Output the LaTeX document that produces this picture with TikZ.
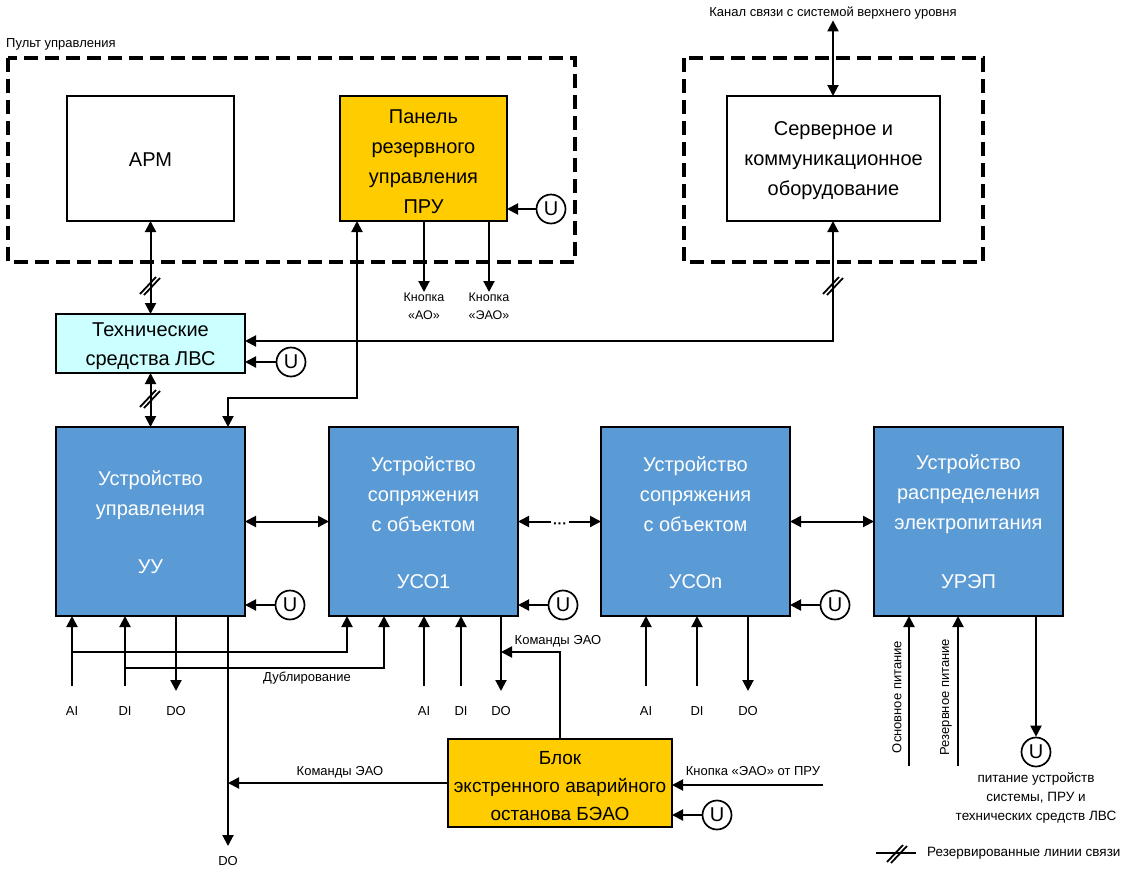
\documentclass[tikz,border=0pt]{standalone}
\usepackage{fontspec}
\setmainfont{Liberation Sans}
\usetikzlibrary{arrows.meta,calc}
\definecolor{blueb}{HTML}{5B9BD5}
\definecolor{yelb}{HTML}{FFCC00}
\definecolor{cyanb}{HTML}{CCFFFF}
\tikzset{
  hashmark/.pic={
    \draw[line width=1.8pt] (-10,9) -- (6,-8);
    \draw[line width=1.8pt] (-6,10) -- (10,-7);
  }
}
\begin{document}
\begin{tikzpicture}[x=1pt,y=-1pt,
  >={Triangle[length=11pt,width=11pt]},
  conn/.style={line width=2pt},
  box/.style={draw,line width=2pt,outer sep=0pt,inner sep=0pt},
  bbox/.style={draw,line width=1.5pt,fill=blueb,outer sep=0pt,inner sep=0pt},
  bigt/.style={font=\fontsize{20}{30}\selectfont,align=center,inner sep=0pt},
  bigw/.style={bigt,text=white},
  smt/.style={font=\fontsize{13}{18}\selectfont,align=center,inner sep=1pt},
  dbox/.style={draw,line width=3.3pt,dash pattern=on 14pt off 7pt},
  ucirc/.style={draw,circle,line width=1.7pt,minimum size=29pt,inner sep=0pt,font=\fontsize{20}{20}\selectfont},
]
\useasboundingbox (0,0) rectangle (1121,876);
\fill[white] (0,0) rectangle (1121,876);

% dashed groups
\draw[dbox] (8,58) rectangle (575,262);
\node[smt,anchor=west] (pult) at (5,44) {Пульт управления};
\draw[dbox] (684,58) rectangle (983,262);

% top boxes
\node[box,minimum width=167pt,minimum height=125pt] (arm) at (150.5,158.5) {};
\node[bigt] (armt) at (150.5,160) {АРМ};
\node[box,fill=yelb,minimum width=167pt,minimum height=125pt] (pru) at (423.5,158.5) {};
\node[bigt] (prut) at (423.5,162) {Панель\\резервного\\управления\\ПРУ};
\node[box,minimum width=213pt,minimum height=125pt] (srv) at (833.5,158.5) {};
\node[bigt] (srvt) at (833.5,161) {Серверное и\\коммуникационное\\оборудование};

% LVS
\node[box,fill=cyanb,minimum width=189pt,minimum height=59pt] (lvs) at (150.5,343.5) {};
\node[bigt,font=\fontsize{20}{29}\selectfont] (lvst) at (150.5,346) {Технические\\средства ЛВС};

% main row
\node[bbox,minimum width=189pt,minimum height=189pt] (uu) at (150.5,521.5) {};
\node[bbox,minimum width=189pt,minimum height=189pt] (uso1) at (423.5,521.5) {};
\node[bbox,minimum width=189pt,minimum height=189pt] (uson) at (695.5,521.5) {};
\node[bbox,minimum width=189pt,minimum height=189pt] (urep) at (968.5,521.5) {};
\node[bigw] (uut) at (150.5,495) {Устройство\\управления};
\node[bigw] (uut2) at (150.5,567) {УУ};
\node[bigw] (uso1t) at (423.5,494) {Устройство\\сопряжения\\с объектом};
\node[bigw] (uso1t2) at (423.5,582) {УСО1};
\node[bigw] (usont) at (695.5,494) {Устройство\\сопряжения\\с объектом};
\node[bigw] (usont2) at (695.5,582) {УСОn};
\node[bigw] (urept) at (968.5,494) {Устройство\\распределения\\электропитания};
\node[bigw] (urept2) at (968.5,582) {УРЭП};

% BEAO
\node[box,fill=yelb,minimum width=224pt,minimum height=88pt] (beao) at (560,783) {};
\node[bigt,font=\fontsize{19}{28}\selectfont] (beaot) at (560,786) {Блок\\экстренного аварийного\\останова БЭАО};

% top channel
\node[smt] (kanal) at (833,13) {Канал связи с системой верхнего уровня};
\draw[conn,<->] (kanal.south) -- (srv.north -| kanal.south);

% ARM - LVS - UU
\draw[conn,<->] (arm.south) -- (lvs.north);
\pic at (150,285) {hashmark};
\draw[conn,<->] (lvs.south) -- (uu.north);
\pic at (150,398) {hashmark};

% server - LVS
\coordinate (sl) at (833,341);
\draw[conn,<->] (srv.south -| sl) -- (sl) -- (lvs.east |- sl);
\pic at (833,285) {hashmark};

% PRU - UU
\coordinate (c1) at (228,398);
\draw[conn,<->] ([xshift=17pt]pru.south west) |- (c1) -- (c1 |- uu.north);

% PRU buttons
\node[smt,anchor=north,font=\fontsize{12.5}{18}\selectfont] (kao) at (424,292) {Кнопка\\«АО»};
\node[smt,anchor=north,font=\fontsize{12.5}{18}\selectfont] (keao) at (489,292) {Кнопка\\«ЭАО»};
\draw[conn,->] (pru.south -| kao.north) -- (kao.north);
\draw[conn,->] (pru.south -| keao.north) -- (keao.north);

% U supplies
\node[ucirc] (upru) at (551,209) {U};
\draw[conn,->] (upru) -- (pru.east |- upru);
\node[ucirc] (ulvs) at (291,362) {U};
\draw[conn,->] (ulvs) -- (lvs.east |- ulvs);
\node[ucirc] (uuu) at (290,605) {U};
\draw[conn,->] (uuu) -- (uu.east |- uuu);
\node[ucirc] (uuso1) at (563,605) {U};
\draw[conn,->] (uuso1) -- (uso1.east |- uuso1);
\node[ucirc] (uuson) at (835,605) {U};
\draw[conn,->] (uuson) -- (uson.east |- uuson);
\node[ucirc] (ubeao) at (717,815) {U};
\draw[conn,->] (ubeao) -- (beao.east |- ubeao);

% main row links
\draw[conn,<->] (uu.east) -- (uso1.west);
\node[font=\bfseries\fontsize{14}{14}\selectfont,inner sep=1.5pt] (dots) at (560,526) {···};
\draw[conn,->] (dots.west |- uso1.east) -- (uso1.east);
\draw[conn,->] (dots.east |- uson.west) -- (uson.west);
\draw[conn,<->] (uson.east) -- (urep.west);

% UU IO
\node[smt] (ai1) at (72,711) {AI};
\node[smt] (di1) at (125,711) {DI};
\node[smt] (do1) at (176,711) {DO};
\draw[conn,->] (72,686) -- (uu.south -| ai1);
\draw[conn,->] (125,686) -- (uu.south -| di1);
\draw[conn,->] (uu.south -| do1) -- (176,691);
\coordinate (j1) at (72,652);
\coordinate (j2) at (125,668);
\draw[conn,->] (j1) -| ([xshift=18pt]uso1.south west);
\draw[conn,->] (j2) -| ([xshift=55pt]uso1.south west);
\node[smt] (dubl) at (307,678) {Дублирование};

% DO from UU down
\node[smt] (do0) at (228,861) {DO};
\draw[conn,->] (uu.south -| do0) -- (228,846);
\draw[conn,->] (beao.west) -- (beao.west -| do0);
\node[smt] (kom1) at (340,772) {Команды ЭАО};

% USO1 IO
\node[smt] (ai2) at (424,711) {AI};
\node[smt] (di2) at (461,711) {DI};
\node[smt] (do2) at (501,711) {DO};
\draw[conn,->] (424,686) -- (uso1.south -| ai2);
\draw[conn,->] (461,686) -- (uso1.south -| di2);
\draw[conn,->] (uso1.south -| do2) -- (501,691);
\coordinate (k2) at (501,652);
\draw[conn,->] (beao.north) |- (k2);
\node[smt] (kom2) at (558,641) {Команды ЭАО};

% USOn IO
\node[smt] (ai3) at (646,711) {AI};
\node[smt] (di3) at (697,711) {DI};
\node[smt] (do3) at (748,711) {DO};
\draw[conn,->] (646,686) -- (uson.south -| ai3);
\draw[conn,->] (697,686) -- (uson.south -| di3);
\draw[conn,->] (uson.south -| do3) -- (748,691);

% UREP power
\coordinate (p1) at (909,766);
\coordinate (p2) at (958,766);
\draw[conn,->] (p1) -- (urep.south -| p1);
\draw[conn,->] (p2) -- (urep.south -| p2);
\node[smt,rotate=90] (p1t) at (897,697) {Основное питание};
\node[smt,rotate=90] (p2t) at (946,697) {Резервное питание};
\node[ucirc] (uout) at (1036,752) {U};
\draw[conn,->] (urep.south -| uout) -- (uout.north);
\node[smt,font=\fontsize{13.5}{19}\selectfont] (pt) at (1036,798) {питание устройств\\системы, ПРУ и\\технических средств ЛВС};

% BEAO inputs
\coordinate (kb) at (823,785);
\draw[conn,->] (kb) -- (beao.east |- kb);
\node[smt] (kbt) at (753,771) {Кнопка «ЭАО» от ПРУ};

% legend
\coordinate (l1) at (876,853);
\coordinate (l2) at (916,853);
\draw[conn] (l1) -- (l2);
\pic at (897,853) {hashmark};
\node[smt,anchor=west,font=\fontsize{13.5}{18}\selectfont] (legt) at (926,853) {Резервированные линии связи};
\end{tikzpicture}
\end{document}
